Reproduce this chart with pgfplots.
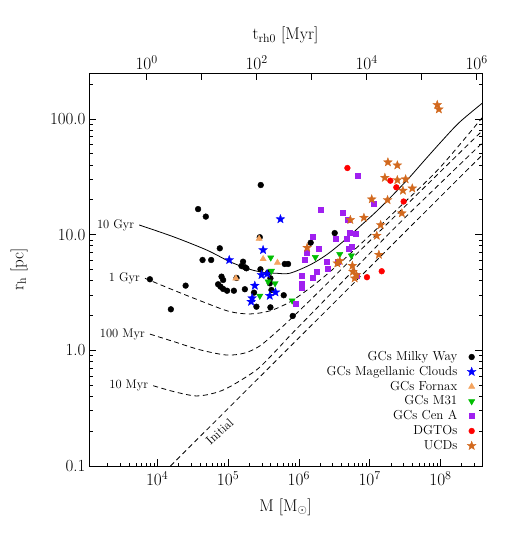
\documentclass[border=0pt]{standalone}
\usepackage{pgfplots}
\pgfplotsset{compat=1.18}
\usetikzlibrary{plotmarks}
\definecolor{mcblue}{RGB}{0,0,255}
\definecolor{fornax}{RGB}{244,164,96}
\definecolor{mgreen}{RGB}{0,190,0}
\definecolor{cena}{RGB}{160,32,240}
\definecolor{ucd}{RGB}{210,105,30}

\pgfdeclareplotmark{fstar}{%
  \pgfpathmoveto{\pgfpointpolar{90}{\pgfplotmarksize}}%
  \pgfpathlineto{\pgfpointpolar{126}{0.42\pgfplotmarksize}}%
  \pgfpathlineto{\pgfpointpolar{162}{\pgfplotmarksize}}%
  \pgfpathlineto{\pgfpointpolar{198}{0.42\pgfplotmarksize}}%
  \pgfpathlineto{\pgfpointpolar{234}{\pgfplotmarksize}}%
  \pgfpathlineto{\pgfpointpolar{270}{0.42\pgfplotmarksize}}%
  \pgfpathlineto{\pgfpointpolar{306}{\pgfplotmarksize}}%
  \pgfpathlineto{\pgfpointpolar{342}{0.42\pgfplotmarksize}}%
  \pgfpathlineto{\pgfpointpolar{18}{\pgfplotmarksize}}%
  \pgfpathlineto{\pgfpointpolar{54}{0.42\pgfplotmarksize}}%
  \pgfpathclose
  \pgfusepathqfillstroke
}

\newcommand{\lblfont}{\fontsize{12.5}{14}\selectfont}
\newcommand{\legfont}{\fontsize{13}{15}\selectfont}
\newcommand{\tkfont}{\fontsize{17}{19}\selectfont}

\begin{document}
\begin{tikzpicture}
\begin{axis}[
  scale only axis, width=393pt, height=393pt,
  xmode=log, ymode=log,
  xmin=1089, xmax=3.86e8, ymin=0.1, ymax=249,
  xtick={1e4,1e5,1e6,1e7,1e8},
  xticklabels={$10^{4}$,$10^{5}$,$10^{6}$,$10^{7}$,$10^{8}$},
  minor xtick={2e3,3e3,4e3,5e3,6e3,7e3,8e3,9e3,2e4,3e4,4e4,5e4,6e4,7e4,8e4,9e4,2e5,3e5,4e5,5e5,6e5,7e5,8e5,9e5,2e6,3e6,4e6,5e6,6e6,7e6,8e6,9e6,2e7,3e7,4e7,5e7,6e7,7e7,8e7,9e7,2e8,3e8},
  ytick={0.1,1,10,100},
  yticklabels={0.1,1.0,10.0,100.0},
  minor ytick={0.2,0.3,0.4,0.5,0.6,0.7,0.8,0.9,2,3,4,5,6,7,8,9,20,30,40,50,60,70,80,90,200},
  xtick pos=left, xticklabel pos=left, ytick pos=both, yticklabel pos=left,
  tick align=inside,
  major tick length=7pt, minor tick length=3.5pt,
  every tick/.style={black, line width=0.6pt},
  axis line style={line width=0.8pt},
  tick label style={font=\tkfont},
  xticklabel style={yshift=-2pt},
  label style={font=\tkfont},
  xlabel={M [M$_\odot$]}, ylabel={r$_\mathrm{h}$ [pc]},
  xlabel style={at={(axis description cs:0.5,-0.104)}, anchor=center},
  ylabel style={at={(axis description cs:-0.178,0.5)}, anchor=center},
  legend plot pos=right, legend cell align=right,
  legend style={draw=none, fill=none, font=\legfont,
    at={(rel axis cs:0.993,0.028)}, anchor=south east, row sep=0.8pt, column sep=9pt,
    nodes={inner sep=1pt, text height=9.5pt, text depth=2.5pt}},
]
% 10 Gyr
\addplot[black, line width=0.8pt, smooth, forget plot] coordinates {
 (5.57e3,12.1) (1.68e4,9.59) (4.98e4,7.36) (1.06e5,5.83) (2.03e5,5.01) (3.13e5,4.72)
 (4.83e5,4.63) (7.44e5,4.63) (1.43e6,5.46) (2.45e6,6.67) (4.20e6,8.68) (7.22e6,11.7)
 (1.24e7,15.8) (2.13e7,22.0) (3.67e7,31.3) (6.31e7,45.6) (1.08e8,65.8) (1.86e8,93.5) (3.86e8,136)};
% 1 Gyr
\addplot[black, line width=0.8pt, dash pattern=on 5pt off 3.5pt, smooth, forget plot] coordinates {
 (6.71e3,4.19) (1.68e4,3.32) (4.98e4,2.55) (1.06e5,2.16) (2.03e5,2.06) (3.89e5,2.19)
 (7.44e5,2.61) (1.43e6,3.45) (2.73e6,4.75) (7.22e6,8.13) (2.65e7,17.3) (9.70e7,37.6) (3.86e8,102)};
% 100 Myr
\addplot[black, line width=0.8pt, dash pattern=on 5pt off 3.5pt, smooth, forget plot] coordinates {
 (7.89e3,1.38) (1.78e4,1.18) (4.00e4,1.01) (9.53e4,0.910) (1.73e5,0.948) (2.81e5,1.09)
 (4.83e5,1.44) (7.44e5,1.83) (1.97e6,3.26) (7.22e6,7.21) (5.07e7,23.3) (3.86e8,78.5)};
% 10 Myr
\addplot[black, line width=0.8pt, dash pattern=on 5pt off 3.5pt, smooth, forget plot] coordinates {
 (8.78e3,0.494) (1.78e4,0.437) (3.59e4,0.403) (6.51e4,0.428) (1.06e5,0.484) (2.52e5,0.676)
 (4.57e5,0.966) (7.44e5,1.33) (2.73e6,3.01) (2.65e7,12.6) (3.86e8,61.6)};
% Initial
\addplot[black, line width=0.8pt, dash pattern=on 5pt off 3.5pt, forget plot] coordinates {
 (1.54e4,0.1) (3.86e8,48.5)};

\node[anchor=east, font=\lblfont, xshift=-1.5pt] at (axis cs:5.57e3,12.1) {10 Gyr};
\node[anchor=east, font=\lblfont, xshift=-1.5pt] at (axis cs:6.71e3,4.19) {1 Gyr};
\node[anchor=east, font=\lblfont, xshift=-1.5pt] at (axis cs:7.89e3,1.38) {100 Myr};
\node[anchor=east, font=\lblfont, xshift=-1.5pt] at (axis cs:8.78e3,0.494) {10 Myr};
\node[rotate=43, font=\lblfont] at (axis cs:7.6e4,0.198) {Initial};

\addplot[only marks, mark=*, mark size=2.9pt, mark options={fill=black, draw=black}] coordinates {
 (3.78e4,16.6) (4.86e4,14.3) (7.66e4,7.61) (4.37e4,6.03) (5.78e4,6.03) (1.63e5,5.83)
 (1.55e5,5.35) (1.73e5,5.22) (1.82e5,5.11) (2.87e5,5.01) (3.68e5,4.69) (3.97e5,4.19)
 (3.89e5,3.79) (6.33e5,5.57) (7.05e5,5.57) (7.89e3,4.11) (2.52e4,3.62) (1.56e4,2.26)
 (8.10e4,4.33) (8.53e4,4.05) (7.25e4,3.72) (7.83e4,3.55) (8.53e4,3.39) (9.70e4,3.27)
 (1.21e5,3.27) (1.73e5,3.37) (2.33e5,3.15) (2.52e5,2.38) (3.97e5,2.35) (6.12e5,2.99)
 (4.11e5,3.32) (1.32e5,4.22) (2.90e5,26.8) (2.81e5,9.48) (1.47e6,8.51) (3.21e6,10.3)
 (8.20e5,1.98)};
\addlegendentry{GCs Milky Way}
\addplot[only marks, mark=fstar, mark size=4.6pt, mark options={fill=mcblue, draw=mcblue, line width=0.3pt}] coordinates {
 (5.50e5,13.6) (3.13e5,7.36) (1.04e5,6.03) (2.97e5,4.48) (3.56e5,4.57) (2.39e5,3.62)
 (2.19e5,2.82) (2.12e5,2.63) (3.89e5,2.96) (4.68e5,3.17)};
\addlegendentry{GCs Magellanic Clouds}
\addplot[only marks, mark=triangle*, mark size=3.6pt, mark options={fill=fornax, draw=fornax}] coordinates {
 (2.75e5,9.22) (3.13e5,6.15) (4.99e5,5.72) (1.29e5,4.19)};
\addlegendentry{GCs Fornax}
\addplot[only marks, mark=triangle*, mark size=3.6pt, mark options={fill=mgreen, draw=mgreen, rotate=180}] coordinates {
 (4.01e5,6.32) (4.11e5,4.85) (3.68e5,3.92) (4.62e5,3.79) (2.81e5,2.95) (1.71e6,6.37)
 (3.78e6,6.76) (5.52e6,6.57) (8.05e5,2.69)};
\addlegendentry{GCs M31}
\addplot[only marks, mark=square*, mark size=2.5pt, mark options={fill=cena, draw=cena}] coordinates {
 (6.84e6,32.1) (2.02e6,16.3) (1.14e7,18.4) (4.20e6,15.3) (4.94e6,13.4) (1.59e6,9.59)
 (1.31e6,7.03) (1.91e6,7.61) (1.21e6,6.03) (3.31e6,9.29) (5.22e6,10.3) (6.35e6,10.1)
 (4.79e6,9.29) (5.52e6,7.86) (5.11e6,7.61) (2.45e6,5.83) (3.57e6,5.83) (2.58e6,5.04)
 (1.81e6,4.78) (1.10e6,4.41) (1.59e6,4.28) (1.09e6,3.74) (1.09e6,3.44) (6.62e6,4.41)
 (9.08e5,2.53)};
\addlegendentry{GCs Cen A}
\addplot[only marks, mark=*, mark size=2.9pt, mark options={fill=red, draw=red}] coordinates {
 (4.85e6,37.6) (1.96e7,29.2) (2.38e7,25.6) (3.02e7,19.3) (9.16e6,4.28) (1.48e7,4.82)};
\addlegendentry{DGTOs}
\addplot[only marks, mark=fstar, mark size=4.6pt, mark options={fill=ucd, draw=ucd, line width=0.3pt}] coordinates {
 (9.01e7,132) (9.49e7,121) (1.81e7,42.2) (2.46e7,39.7) (1.64e7,31.0) (2.46e7,29.6)
 (3.22e7,30.1) (2.95e7,24.0) (4.00e7,25.1) (1.07e7,20.2) (1.79e7,19.9) (8.30e6,14.0)
 (5.34e6,13.4) (2.85e7,15.3) (1.43e7,12.1) (1.26e7,9.78) (1.31e6,7.70) (1.35e7,6.70)
 (3.78e6,5.92) (3.50e6,5.65) (5.70e6,5.38) (5.81e6,4.78) (6.49e6,4.48) (6.14e6,4.19)};
\addlegendentry{UCDs}
\end{axis}

\begin{axis}[
  scale only axis, width=393pt, height=393pt,
  xmode=log, xmin=0.0893, xmax=1.25e6, ymin=0, ymax=1,
  axis x line*=top, axis y line=none,
  xtick={1,10,100,1000,1e4,1e5,1e6},
  xticklabels={$10^{0}$,,$10^{2}$,,$10^{4}$,,$10^{6}$},
  xminorticks=false,
  tick align=inside, major tick length=7pt,
  every tick/.style={black, line width=0.6pt},
  axis line style={line width=0.8pt},
  tick label style={font=\tkfont},
  label style={font=\tkfont},
  xlabel={t$_\mathrm{rh0}$ [Myr]},
  xlabel style={at={(axis description cs:0.5,1.095)}, anchor=center},
]
\addplot[draw=none] coordinates {(1,0.5) (10,0.5)};
\end{axis}
\pgfresetboundingbox
\path[use as bounding box] (-89pt,-67pt) rectangle (418pt,466pt);
\end{tikzpicture}
\end{document}
